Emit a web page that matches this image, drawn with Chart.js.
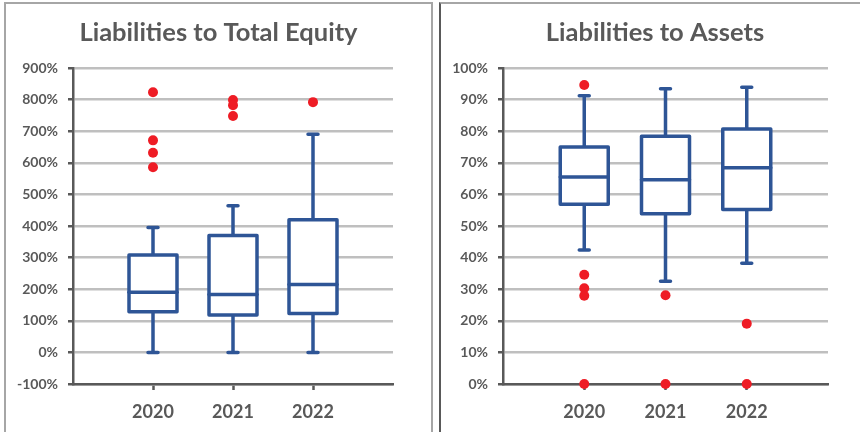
<!DOCTYPE html>
<html>
<head>
<meta charset="utf-8">
<script src="https://cdn.jsdelivr.net/npm/chart.js@4"></script>
<style>
  html, body { margin: 0; padding: 0; background: #fff; overflow: hidden; }
  body { width: 860px; height: 432px; position: relative; }
  .panel { position: absolute; border: 2px solid #a6a6a6; box-sizing: border-box; }
  canvas { position: absolute; top: 0; }
</style>
</head>
<body>
<div class="panel" style="left:4px; top:2px; width:429px; height:445px;"></div>
<div class="panel" style="left:439px; top:2px; width:440px; height:445px; border-left-color:#595959;"></div>
<canvas id="equity" width="427" height="432" style="left:5px;"></canvas>
<canvas id="assets" width="430" height="432" style="left:440px;"></canvas>
<script>
// categorias
const years = ["2020", "2021", "2022"];

// Liabilities to Total Equity (%)
const eqMin = [0, 0, 0];
const eqQ1 = [129, 118, 123];
const eqMedian = [190, 183, 215];
const eqQ3 = [308, 370, 420];
const eqMax = [395, 464, 690];
const eqOutliers = [[823, 671, 632, 586], [799, 782, 748], [792]];

// Liabilities to Assets (%)
const asMin = [42.4, 32.5, 38.2];
const asQ1 = [56.9, 53.9, 55.2];
const asMedian = [65.5, 64.6, 68.4];
const asQ3 = [75.0, 78.4, 80.7];
const asMax = [91.2, 93.4, 93.9];
const asOutliers = [[94.6, 34.6, 30.3, 27.9, 0], [28.1, 0], [19.1, 0]];

const blue = "#2e5596";
const red = "#ee1c25";
const dark = "#595959";

Chart.defaults.font.family = "Lato";

// dibuja las cajas con las escalas del grafico
const boxPlugin = {
  id: "boxes",
  beforeDatasetsDraw(chart, args, opts) {
    const xs = chart.scales.x;
    const ys = chart.scales.y;
    const c = chart.ctx;
    const s = opts.stats;
    c.save();
    c.strokeStyle = blue;
    c.lineWidth = 3.5;
    c.lineJoin = "round";
    c.lineCap = "round";
    for (let i = 0; i < years.length; i++) {
      const cx = xs.getPixelForValue(i + 1);
      const yMin = ys.getPixelForValue(s.min[i]);
      const yQ1 = ys.getPixelForValue(s.q1[i]);
      const yMed = ys.getPixelForValue(s.median[i]);
      const yQ3 = ys.getPixelForValue(s.q3[i]);
      const yMax = ys.getPixelForValue(s.max[i]);
      // bigotes
      c.beginPath();
      c.moveTo(cx, yMax); c.lineTo(cx, yQ3);
      c.moveTo(cx, yQ1); c.lineTo(cx, yMin);
      c.moveTo(cx - 5, yMax); c.lineTo(cx + 5, yMax);
      c.moveTo(cx - 5, yMin); c.lineTo(cx + 5, yMin);
      c.stroke();
      // caja
      c.fillStyle = "#fff";
      c.fillRect(cx - 24, yQ3, 48, yQ1 - yQ3);
      c.strokeRect(cx - 24, yQ3, 48, yQ1 - yQ3);
      // mediana
      c.beginPath();
      c.moveTo(cx - 24, yMed); c.lineTo(cx + 24, yMed);
      c.stroke();
    }
    c.restore();
  },
};

function outlierPoints(list) {
  const pts = [];
  list.forEach((vals, i) => vals.forEach((v) => pts.push({ x: i + 1, y: v })));
  return pts;
}

// eje derecho invisible para dejar el margen sin descentrar el titulo
function makeChart(id, title, stats, outliers, yMin, yMax, step, axisLeft, rightGap) {
  return new Chart(document.getElementById(id), {
    type: "scatter",
    data: {
      datasets: [
        {
          data: outlierPoints(outliers),
          pointRadius: 5,
          pointBackgroundColor: red,
          pointBorderWidth: 0,
          clip: false,
        },
      ],
    },
    plugins: [boxPlugin],
    options: {
      responsive: false,
      animation: false,
      layout: { padding: 0 },
      plugins: {
        legend: { display: false },
        tooltip: { enabled: false },
        title: {
          display: true,
          text: title,
          color: dark,
          font: { size: 25.5, weight: "bold" },
          padding: { top: 17.5, bottom: 19.9 },
        },
        boxes: { stats: stats },
      },
      scales: {
        x: {
          type: "linear",
          min: 0,
          max: 4,
          afterFit: (s) => { s.height = 48; },
          ticks: {
            stepSize: 1,
            autoSkip: false,
            maxRotation: 0,
            padding: 11,
            color: dark,
            font: { size: 18, weight: "bold" },
            callback: (v) => years[v - 1] || "",
          },
          grid: {
            drawOnChartArea: false,
            tickLength: 6,
            tickWidth: 2.5,
            tickColor: (ctx) => (ctx.tick && ctx.tick.value >= 1 && ctx.tick.value <= 3 ? dark : "rgba(0,0,0,0)"),
          },
          border: { color: dark, width: 2.5 },
        },
        y: {
          min: yMin,
          max: yMax,
          afterFit: (s) => { s.width = axisLeft; },
          ticks: {
            stepSize: step,
            padding: 10,
            color: dark,
            font: { size: 14, weight: "bold" },
            callback: (v) => v + "%",
          },
          grid: {
            color: "#bfbfbf",
            lineWidth: 2.5,
            tickLength: 5,
            tickWidth: 2.5,
            tickColor: dark,
          },
          border: { color: dark, width: 2.5 },
        },
        gap: {
          position: "right",
          afterFit: (s) => { s.width = rightGap; },
          ticks: { display: false },
          grid: { display: false },
          border: { display: false },
        },
      },
    },
  });
}

makeChart(
  "equity",
  "Liabilities to Total Equity",
  { min: eqMin, q1: eqQ1, median: eqMedian, q3: eqQ3, max: eqMax },
  eqOutliers,
  -100, 900, 100, 68, 39
);

makeChart(
  "assets",
  "Liabilities to Assets",
  { min: asMin, q1: asQ1, median: asMedian, q3: asQ3, max: asMax },
  asOutliers,
  0, 100, 10, 63, 42
);
</script>
</body>
</html>
